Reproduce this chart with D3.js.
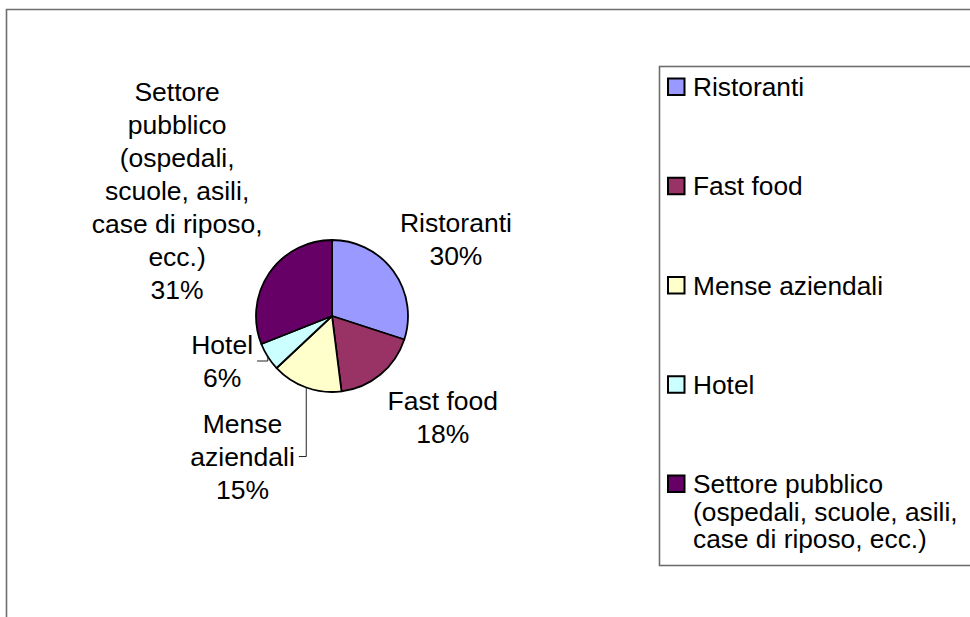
<!DOCTYPE html>
<html>
<head>
<meta charset="utf-8">
<script src="https://cdn.jsdelivr.net/npm/d3@7"></script>
<style>
  body { margin: 0; background: #fff; }
  svg { display: block; font-family: "Liberation Sans", Arial, sans-serif; }
</style>
</head>
<body>
<div id="chart"></div>
<script>
// data
const categories = ["Ristoranti", "Fast food", "Mense aziendali", "Hotel",
  "Settore pubblico (ospedali, scuole, asili, case di riposo, ecc.)"];
const values = [30, 18, 15, 6, 31];
const sliceColors = ["#9999ff", "#993366", "#ffffcc", "#ccffff", "#660066"];
// how the category names are broken on the pie and in the legend
const pieLabelLines = [["Ristoranti"], ["Fast food"], ["Mense", "aziendali"], ["Hotel"],
  ["Settore", "pubblico", "(ospedali,", "scuole, asili,", "case di riposo,", "ecc.)"]];
const legendLines = [["Ristoranti"], ["Fast food"], ["Mense aziendali"], ["Hotel"],
  ["Settore pubblico", "(ospedali, scuole, asili,", "case di riposo, ecc.)"]];
// labels that were dragged away from their default spot (and get a leader line)
const labelShift = [[0, 5], [2, 3], [-61, 12], [-8, -33], [0, 37]];
const labelLeader = [false, false, true, true, false];

const width = 970, height = 617;
const cx = 332, cy = 316, radius = 76;
const fontSize = 26.5, lineH = 33;

const svg = d3.select('#chart')
  .append('svg')
  .attr('width', width)
  .attr('height', height);

// outer chart frame (runs off the right and bottom edge)
svg.append('path')
  .attr('d', `M6.5,${height + 5} V9.5 H${width + 5}`)
  .attr('fill', 'none')
  .attr('stroke', '#6e6e6e')
  .attr('stroke-width', 1.6);

const total = d3.sum(values);
const pie = d3.pie().sort(null).value(d => d)(values);
const arc = d3.arc().innerRadius(0).outerRadius(radius);
const edgeArc = d3.arc().innerRadius(radius).outerRadius(radius);
const labelArc = d3.arc().innerRadius(radius + 8).outerRadius(radius + 8);

const g = svg.append('g').attr('transform', `translate(${cx},${cy})`);

g.selectAll('path.slice')
  .data(pie)
  .enter()
  .append('path')
  .attr('class', 'slice')
  .attr('d', arc)
  .attr('fill', (d, i) => sliceColors[i])
  .attr('stroke', '#000')
  .attr('stroke-width', 1.8)
  .attr('stroke-linejoin', 'round');

// data labels: name + percentage, placed like the office chart does it
pie.forEach((d, i) => {
  const lines = pieLabelLines[i].concat([Math.round(d.value * 100 / total) + '%']);
  const lab = g.append('text')
    .style('font-size', fontSize + 'px')
    .attr('fill', '#000')
    .attr('text-anchor', 'middle');
  lines.forEach(line => lab.append('tspan').text(line));
  const w = d3.max(lab.selectAll('tspan').nodes(), n => n.getComputedTextLength());
  const h = lines.length * lineH;

  const [px, py] = labelArc.centroid(d);
  // angle in maths convention (counter-clockwise from 3 o'clock)
  let deg = 90 - ((d.startAngle + d.endAngle) / 2) * 180 / Math.PI;
  deg = ((deg % 360) + 360) % 360;
  let ax = 0, ay = 0;
  if (deg <= 22.5 || deg >= 337.5) { ax = 1; ay = 0; }
  else if (deg < 67.5) { ax = 1; ay = -1; }
  else if (deg < 112.5) { ax = 0; ay = -1; }
  else if (deg <= 157.5) { ax = -1; ay = -1; }
  else if (deg <= 202.5) { ax = -1; ay = 0; }
  else if (deg < 247.5) { ax = -1; ay = 1; }
  else if (deg < 292.5) { ax = 0; ay = 1; }
  else { ax = 1; ay = 1; }

  const mx = px + ax * w / 2 + labelShift[i][0];
  const my = py + ay * h / 2 + labelShift[i][1];
  const top = my - h / 2;
  lab.selectAll('tspan')
    .attr('x', mx)
    .attr('y', (t, k) => top + 26 + k * lineH);

  if (labelLeader[i]) {
    const [ex, ey] = edgeArc.centroid(d);
    const endX = mx + w / 2 + 4;
    g.append('polyline')
      .attr('points', [[ex, ey], [ex, my], [endX, my]].map(p => p.join(',')).join(' '))
      .attr('fill', 'none')
      .attr('stroke', '#222')
      .attr('stroke-width', 1);
  }
});

// legend
const legend = svg.append('g');
legend.append('rect')
  .attr('x', 659.5)
  .attr('y', 66.5)
  .attr('width', 330)
  .attr('height', 499)
  .attr('fill', '#fff')
  .attr('stroke', '#6e6e6e')
  .attr('stroke-width', 1.6);

const legendY = d3.scaleLinear().domain([0, categories.length - 1]).range([96, 493]);
const lgFont = 26.3, lgLineH = 27.5;

categories.forEach((c, i) => {
  const base = legendY(i);
  legend.append('rect')
    .attr('x', 668)
    .attr('y', base - 17.5)
    .attr('width', 16.5)
    .attr('height', 16.5)
    .attr('fill', sliceColors[i])
    .attr('stroke', '#000')
    .attr('stroke-width', 2);
  const t = legend.append('text')
    .style('font-size', lgFont + 'px')
    .attr('fill', '#000');
  legendLines[i].forEach((line, k) => {
    t.append('tspan')
      .attr('x', 693)
      .attr('y', base + k * lgLineH)
      .text(line);
  });
});
</script>
</body>
</html>
